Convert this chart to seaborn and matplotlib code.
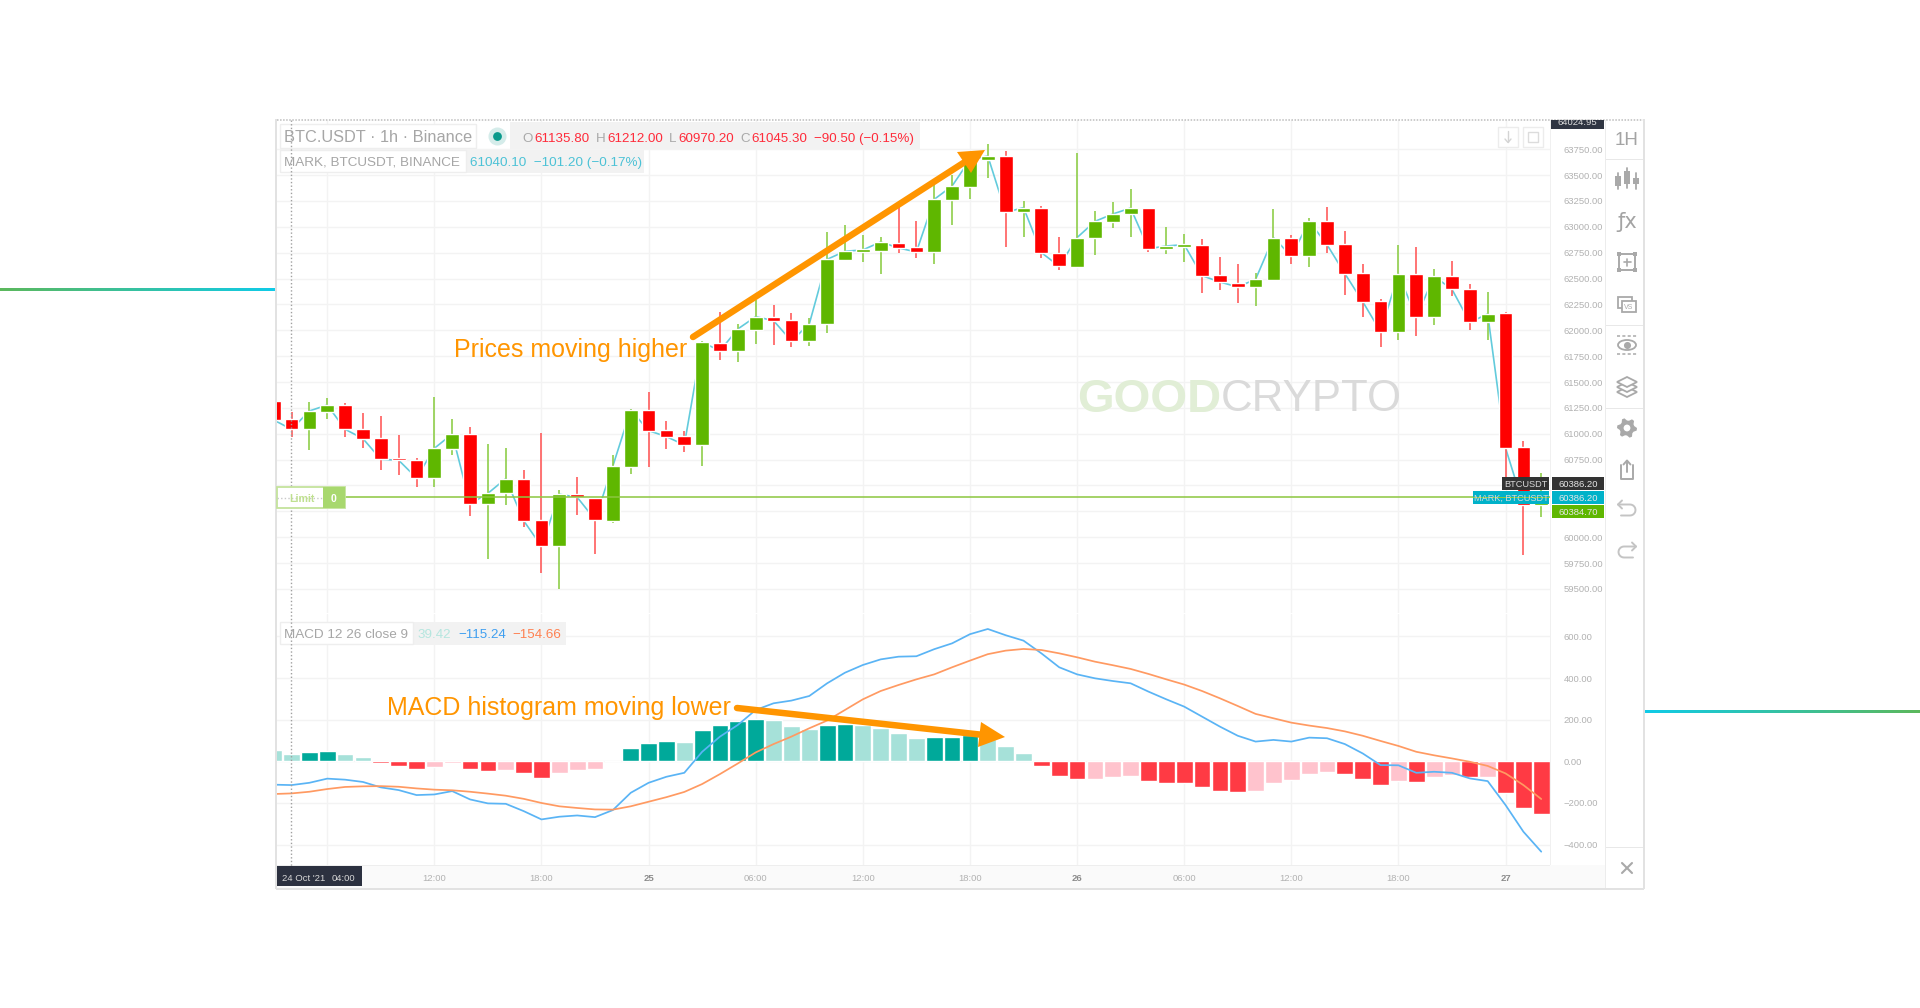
import numpy as np
import pandas as pd
import matplotlib
matplotlib.use("Agg")
import matplotlib.pyplot as plt
import seaborn as sns
from matplotlib.colors import LinearSegmentedColormap
from matplotlib.patches import Rectangle, Polygon, Ellipse, Circle

# hourly candles, first one is 24 Oct 03:00 (hour 3)
hours = list(range(3, 75))
opens = [61320, 61140, 61043, 61214, 61278, 61050, 60959, 60760, 60747, 60573, 60853, 60998,
         60321, 60424, 60566, 60167, 59912, 60415, 60379, 60160, 60682, 61230, 61040, 60979,
         60892, 61881, 61803, 62003, 62132, 62100, 61894, 62064, 62680, 62757, 62770, 62844,
         62805, 62757, 63260, 63389, 63650, 63685, 63140, 63186, 62751, 62609, 62889, 63050,
         63128, 63186, 62789, 62805, 62825, 62531, 62461, 62419, 62487, 62896, 62718, 63053,
         62834, 62551, 62283, 61987, 62544, 62126, 62522, 62399, 62077, 62164, 60868, 60308]
closes = [61133, 61043, 61220, 61278, 61043, 60953, 60753, 60744, 60573, 60859, 60998, 60321,
          60424, 60566, 60160, 59912, 60415, 60386, 60170, 60689, 61230, 61030, 60972, 60892,
          61884, 61803, 62013, 62132, 62093, 61897, 62061, 62686, 62764, 62777, 62854, 62796,
          62757, 63266, 63395, 63650, 63685, 63140, 63186, 62751, 62619, 62896, 63053, 63124,
          63182, 62789, 62815, 62828, 62528, 62467, 62419, 62493, 62896, 62718, 63053, 62828,
          62548, 62277, 61987, 62544, 62126, 62522, 62396, 62077, 62158, 60862, 60308, 60386]
highs = [61320, 61207, 61311, 61343, 61301, 61201, 61172, 60988, 60769, 61352, 61140, 61062,
         60901, 60859, 60650, 61005, 60457, 60579, 60379, 60798, 61236, 61401, 61120, 61030,
         61900, 62174, 62061, 62293, 62245, 62164, 62116, 62954, 63015, 62921, 62905, 63253,
         63057, 63405, 63500, 63650, 63801, 63737, 63250, 63205, 62905, 63711, 63157, 63237,
         63366, 63186, 63002, 62931, 62883, 62706, 62641, 62551, 63173, 62925, 63086, 63195,
         62963, 62641, 62303, 62825, 62802, 62590, 62673, 62445, 62374, 62180, 60926, 60617]
lows = [61133, 60966, 60843, 61143, 60972, 60859, 60650, 60602, 60489, 60489, 60792, 60209,
        59790, 60312, 60102, 59658, 59497, 60218, 59838, 60141, 60611, 60682, 60850, 60821,
        60689, 61713, 61691, 61865, 61858, 61842, 61852, 61971, 62680, 62664, 62544, 62744,
        62696, 62638, 63018, 63270, 63469, 62809, 62905, 62696, 62583, 62599, 62728, 62986,
        62899, 62757, 62738, 62664, 62358, 62390, 62267, 62235, 62474, 62644, 62615, 62744,
        62341, 62126, 61842, 61906, 61945, 62055, 62335, 62003, 61906, 60500, 59828, 60192]

hist_values = [53, 37, 43, 48, 34, 19, -6, -21, -35, -26, -6, -35, -46, -40, -56, -82, -56, -42,
               -37, 3, 64, 88, 99, 93, 149, 173, 194, 204, 199, 168, 154, 173, 178, 173, 159, 138,
               114, 117, 117, 127, 106, 74, 38, -21, -71, -87, -85, -77, -71, -93, -106, -106,
               -125, -141, -146, -141, -106, -91, -59, -50, -59, -85, -115, -96, -101, -75, -64,
               -75, -75, -151, -226, -255]
# T rising green, t fading green, R falling red, r fading red
hist_shades = list("ttTTttRRRrrRRrRRrrrTTTTtTTTTtttTTttttTTTtttRRRrrrRRRRRRrrrrrRRRrRrrRrRRR")
macd_values = [-112, -114, -103, -83, -88, -99, -125, -138, -162, -159, -143, -183, -202, -204,
               -239, -279, -266, -260, -268, -234, -151, -103, -74, -55, 46, 119, 175, 247, 279,
               292, 314, 375, 426, 463, 490, 503, 505, 539, 567, 611, 636, 606, 580, 519, 452,
               418, 399, 386, 375, 335, 298, 263, 215, 167, 123, 95, 103, 95, 114, 111, 83, 38,
               -18, -19, -55, -50, -55, -82, -95, -210, -338, -434]
signal_values = [-157, -154, -146, -133, -123, -120, -119, -122, -130, -136, -139, -146, -155,
                 -165, -180, -200, -216, -224, -231, -232, -216, -194, -172, -147, -109, -61, -10,
                 43, 83, 119, 159, 196, 247, 298, 338, 367, 394, 418, 452, 484, 515, 532, 540,
                 535, 519, 500, 479, 462, 444, 420, 394, 369, 338, 303, 266, 228, 207, 186, 172,
                 160, 144, 123, 98, 74, 46, 29, 14, -2, -22, -58, -114, -181]

price_ticks = list(range(59500, 64000, 250))
hidden_price_ticks = [60250, 60500]  # sit under the price tags
macd_ticks = [-400, -200, 0, 200, 400, 600]
time_ticks = [6, 12, 18, 24, 30, 36, 42, 48, 54, 60, 66, 72]
time_labels = ["", "12:00", "18:00", "25", "06:00", "12:00", "18:00", "26", "06:00", "12:00", "18:00", "27"]
limit_price = 60386

GREEN = "#5fb700"
RED = "#ff0000"
GRID = "#f3f3f3"
CHROME = "#a9a9a9"
ORANGE = "#ff9500"

sns.set_theme(style="white")
plt.rcParams['font.family'] = ['Liberation Sans', 'DejaVu Sans']

W, H = 1920, 1008
fig = plt.figure(figsize=(W / 100, H / 100), dpi=100, facecolor="white")


def px_axes(left, top, right, bottom, **kw):
    return fig.add_axes([left / W, 1 - bottom / H, (right - left) / W, (bottom - top) / H], **kw)


xlim = (3.13, 74.49)
ax = px_axes(276, 120, 1550, 613)
ax2 = px_axes(276, 614, 1550, 865)
ov = fig.add_axes([0, 0, 1, 1], zorder=10)
ov.patch.set_alpha(0)

# candles
df = pd.DataFrame({"hour": hours, "open": opens, "close": closes, "high": highs, "low": lows})
df["up"] = df["close"] >= df["open"]
sns.lineplot(x=hours, y=closes, ax=ax, color="#62cbdc", lw=1.2, zorder=1.5)
for up, part in df.groupby("up"):
    body = GREEN if up else RED
    wick = "#8fce4a" if up else "#ff5c5c"
    ax.vlines(part["hour"], part["low"], part["high"], color=wick, lw=1.2, zorder=2)
    ax.bar(part["hour"], (part["close"] - part["open"]).abs().clip(lower=25),
           bottom=part[["open", "close"]].min(axis=1), width=0.77, color=body, zorder=3)
ax.axhline(limit_price, color="#8cc63f", lw=1.1, zorder=5)

ax.set_ylim(59267, 64033)
ax.set_yticks(price_ticks)
ax.set_yticklabels(["" if v in hidden_price_ticks else f"{v:.2f}" for v in price_ticks])

# macd histogram and lines
hist_df = pd.DataFrame({"hour": hours, "value": hist_values, "shade": hist_shades})
sns.barplot(data=hist_df, x="hour", y="value", hue="shade", native_scale=True, dodge=False,
            hue_order=["T", "t", "R", "r"], width=0.94, errorbar=None, legend=False, ax=ax2,
            palette={"T": "#00a99a", "t": "#a6e1d9", "R": "#ff3a44", "r": "#ffc3cd"}, zorder=2,
            saturation=1)
sns.lineplot(x=hours, y=macd_values, ax=ax2, color="#5ab4f5", lw=1.25, zorder=4)
sns.lineplot(x=hours, y=signal_values, ax=ax2, color="#ff9a62", lw=1.25, zorder=4)
ax2.set_ylim(-498, 708)
ax2.set_yticks(macd_ticks)
ax2.set_yticklabels([f"{v:.2f}".replace("-", "\u2212") for v in macd_ticks])
ax2.set_xlabel("")
ax2.set_ylabel("")

for a in (ax, ax2):
    a.set_xlim(*xlim)
    a.set_axisbelow(True)
    a.grid(True, color=GRID, lw=1)
    a.set_xticks(time_ticks)
    for s in a.spines.values():
        s.set_visible(False)
    a.yaxis.tick_right()
    a.tick_params(axis="y", length=0, pad=10, labelsize=6.8, labelcolor="#b2b2b2")
ax.tick_params(axis="x", length=0, labelbottom=False)
ax2.set_xticklabels(time_labels)
ax2.tick_params(axis="x", length=0, pad=6.5, labelsize=6.8, labelcolor="#b2b2b2")
for label in ax2.get_xticklabels():
    if label.get_text() in ("25", "26", "27"):
        label.set_color("#8c8c8c")
        label.set_fontweight("bold")

# time axis band goes behind the axes so the tick labels stay on top
fig.add_artist(Rectangle((277 / W, 1 - 888 / H), (1605 - 277) / W, 23 / H, fc="#fafafa", ec="none",
                         transform=fig.transFigure, zorder=-1))

# overlay in pixel coordinates for the screenshot chrome
ov.set_xlim(0, W)
ov.set_ylim(H, 0)
ov.axis("off")


def box(x0, y0, x1, y1, fc="white", ec="none", lw=1, z=1, alpha=1):
    p = Rectangle((x0, y0), x1 - x0, y1 - y0, fc=fc, ec=ec, lw=lw, zorder=z, alpha=alpha)
    ov.add_patch(p)
    return p


def txt(x, y, s, size, color=CHROME, ha="left", z=6, **kw):
    # va=center leaves room for descenders, push down so the caps sit on y
    return ov.text(x, y + 0.146 * size, s, fontsize=size, color=color, ha=ha, va="center", zorder=z, **kw)


def seg(xs, ys, color=CHROME, lw=1.6, z=6, **kw):
    ov.plot(xs, ys, color=color, lw=lw, zorder=z, solid_capstyle="round", **kw)


# gradient rules either side of the screenshot
grad = LinearSegmentedColormap.from_list("rule", ["#5cb85c", "#10cbe8"])
ramp = np.linspace(0, 1, 256)[None, :]
ov.imshow(ramp, cmap=grad, extent=(0, 275, 291, 288), aspect="auto", zorder=1)
ov.imshow(ramp[:, ::-1], cmap=grad, extent=(1645, 1920, 713, 710), aspect="auto", zorder=1)
ov.set_xlim(0, W)
ov.set_ylim(H, 0)

# frame
box(275, 119, 277, 889, fc="#e2e2e2", z=3)
box(1643, 119, 1645, 889, fc="#e2e2e2", z=3)
box(276, 888, 1644, 889.5, fc="#e2e2e2", z=3)
seg([277, 1643], [120, 120], color="#bdbdbd", lw=1.1, linestyle=(0, (1, 1)), z=3)
box(1550, 120, 1551, 865, fc="#f0f0f0", z=1)
box(1605, 120, 1606, 888, fc="#ececec", z=1)
box(277, 864.5, 1550, 865.5, fc="#eeeeee", z=1)
for y in (159, 325, 408, 847):
    box(1606, y, 1643, y + 1, fc="#e8e8e8", z=1)
seg([291.3, 291.3], [120, 866], color="#a0a0a0", lw=1.0, linestyle=(0, (1, 1.6)), z=5)

# legends
box(510, 122, 920, 149, fc="#f2f2f2", z=1)
box(280, 124, 476, 148, fc="white", ec="#eeeeee", z=2)
txt(284.5, 135.5, "BTC.USDT · 1h · Binance", 11.8, color="#a6a6a6")
ov.scatter([497], [136], s=169, color="#d5ecea", zorder=6, lw=0)
ov.scatter([497], [136], s=40, color="#0a9a8c", zorder=7, lw=0)
red_txt = "#ff2b3a"
for x, s, c in [(522, "O", CHROME), (534, "61135.80", red_txt), (596, "H", CHROME),
                (607, "61212.00", red_txt), (669, "L", CHROME), (678, "60970.20", red_txt),
                (740, "C", CHROME), (751, "61045.30", red_txt), (814, "\u221290.50 (\u22120.15%)", red_txt)]:
    txt(x, 137.5, s, 9.6, color=c)
box(466, 150, 644, 173, fc="#f2f2f2", z=1)
box(280, 150, 466, 172, fc="white", ec="#eeeeee", z=2)
txt(284.5, 161.5, "MARK, BTCUSDT, BINANCE", 9.7, color="#a6a6a6")
txt(469.5, 161.5, "61040.10  \u2212101.20 (\u22120.17%)", 9.7, color="#4cc2d6")

box(413, 622, 566, 645, fc="#f2f2f2", z=1)
box(280, 622, 413, 644, fc="white", ec="#eeeeee", z=2)
txt(284.5, 633.5, "MACD 12 26 close 9", 9.7, color="#a6a6a6")
txt(418, 634, "39.42", 9.6, color="#b5e6df")
txt(458, 634, "\u2212115.24", 9.6, color="#3f9ff0")
txt(512, 634, "\u2212154.66", 9.6, color="#ff8050")

# top right buttons
for x0 in (1498, 1523):
    ov.add_patch(Rectangle((x0, 127), 20, 20, fc="white", ec="#ececec", lw=1, zorder=4))
seg([1508, 1508], [131, 142], color="#d4d4d4", lw=1)
seg([1505, 1508, 1511], [139, 142.5, 139], color="#d4d4d4", lw=1)
ov.add_patch(Rectangle((1528, 132), 10, 10, fc="none", ec="#dcdcdc", lw=1, zorder=5))

# annotations
txt(454, 347.5, "Prices moving higher", 18.0, color=ORANGE)
txt(387, 705.5, "MACD histogram moving lower", 18.0, color=ORANGE)


def arrow(x0, y0, x1, y1, b1, b2, width=6.5):
    mid = (np.array(b1) + np.array(b2)) / 2
    seg([x0, mid[0]], [y0, mid[1]], color=ORANGE, lw=width * 0.72, z=8)
    ov.add_patch(Polygon([(x1, y1), b1, b2], fc=ORANGE, ec="none", zorder=8))


arrow(693, 337, 985, 150, (957, 152), (971, 173))
arrow(737, 708, 1005, 737, (981, 722), (978, 747))

# watermark
txt(1077, 395, "GOOD", 34, color="#e1eed6", z=1.5, fontweight="bold")
txt(1221, 395, "CRYPTO", 31.6, color="#dadada", z=1.5)

# limit order label
box(277, 487, 345, 508, fc="white", ec="#c4e39c", lw=1.3, z=5)
box(323, 487, 345, 508, fc="#a8d86e", z=5.5)
txt(289, 497.5, "Limit", 7.6, color="#bfe08f", z=6, fontweight="bold")
txt(331, 497.5, "0", 7.6, color="white", z=6, fontweight="bold")
seg([277, 322], [497.5, 497.5], color="#c8c8c8", lw=1, linestyle=(0, (1, 1.6)), z=5.8)

# axis tags
top_tag = box(1551, 120, 1604, 129, fc="#2f3542", z=4)
t = txt(1577.5, 122, "64024.95", 6.8, color="#dddddd", ha="center")
t.set_clip_path(top_tag)
tag_rows = [(477, 490, "#333333", "60386.20", "BTCUSDT", 1502),
            (491, 504, "#00b2c9", "60386.20", "MARK, BTCUSDT", 1473),
            (505, 518, "#5fb700", "60384.70", None, None)]
for y0, y1, col, val, name, x0 in tag_rows:
    box(1552, y0, 1604, y1, fc=col, z=4)
    txt(1578, (y0 + y1) / 2, val, 6.8, color="#e6e6e6", ha="center")
    if name:
        box(x0, y0, 1549, y1, fc=col, z=4)
        txt((x0 + 1549) / 2, (y0 + y1) / 2, name, 6.6, color="#d9d9d9", ha="center")
box(1473, 496.8, 1549, 498, fc="#8cc63f", z=5)

# time tag
box(277, 866, 362, 886, fc="#2c3140", z=4)
txt(282, 878, "24 Oct '21", 6.8, color="#d8d8d8")
txt(332, 878, "04:00", 6.8, color="#d8d8d8")

# toolbar icons
cx = 1627
txt(cx, 139, "1H", 13.5, ha="center", color="#a4a4a4")
for dx, y0, y1, wy0, wy1 in [(-9, 176, 186, 173, 189), (0, 171, 184, 168, 188), (9, 178, 184, 173, 189)]:
    seg([cx + dx, cx + dx], [wy0, wy1], lw=1.3)
    ov.add_patch(Rectangle((cx + dx - 3, y0), 6, y1 - y0, fc=CHROME, ec="none", zorder=6))
txt(cx, 220, "\u0192x", 15, ha="center", color="#a4a4a4", family="DejaVu Sans")
ov.add_patch(Rectangle((cx - 8, 254), 16, 16, fc="none", ec=CHROME, lw=1.4, zorder=6))
seg([cx - 3.5, cx + 3.5], [262, 262], lw=1.2)
seg([cx, cx], [258.5, 265.5], lw=1.2)
ov.scatter([cx - 8, cx + 8, cx - 8, cx + 8], [254, 254, 270, 270], s=12, marker="s", color=CHROME, zorder=6, lw=0)
ov.add_patch(Rectangle((cx - 9, 297), 14, 11, fc="white", ec=CHROME, lw=1.3, zorder=6))
ov.add_patch(Rectangle((cx - 5, 301), 14, 11, fc="white", ec=CHROME, lw=1.3, zorder=6.1))
txt(cx + 2, 306.5, "VS", 5, ha="center", z=6.2)
seg([cx - 10, cx + 10], [336, 336], lw=1.1, linestyle=(0, (2, 1.5)))
seg([cx - 10, cx + 10], [354, 354], lw=1.1, linestyle=(0, (2, 1.5)))
ov.add_patch(Ellipse((cx, 345), 18, 10, fc="none", ec=CHROME, lw=1.3, zorder=6))
ov.scatter([cx], [345], s=26, color=CHROME, zorder=6, lw=0)
for y in (392, 387, 382):
    ov.add_patch(Polygon([(cx - 10, y), (cx, y - 5), (cx + 10, y), (cx, y + 5)], fc="white", ec=CHROME, lw=1.3, zorder=6))

# gear
angles = np.linspace(0, 2 * np.pi, 24, endpoint=False) + np.pi / 12
radii = [10, 10, 7.5, 7.5] * 6
ov.add_patch(Polygon([(cx + r * np.sin(a), 428 + r * np.cos(a)) for r, a in zip(radii, angles)],
                     fc=CHROME, ec="none", zorder=6))
ov.add_patch(Circle((cx, 428), 3.4, fc="white", ec="none", zorder=6.1))

# share
seg([cx - 6, cx - 6, cx + 6, cx + 6], [465, 479, 479, 465], lw=1.4)
seg([cx, cx], [461, 472], lw=1.4)
seg([cx - 3.5, cx, cx + 3.5], [464.5, 460.5, 464.5], lw=1.4)


# undo and redo, flip=1 has the arrow head on the left
def turn_arrow(y, flip):
    theta = np.linspace(-np.pi / 2, np.pi / 2, 12)
    xs = [cx - flip * 9] + list(cx + flip * (3 + 5.5 * np.cos(theta))) + [cx - flip * 6]
    ys = [y - 5.5] + list(y + 5.5 * np.sin(theta)) + [y + 5.5]
    seg(xs, ys, lw=1.4, color="#c4c4c4")
    seg([cx - flip * 5, cx - flip * 9, cx - flip * 5], [y - 9.5, y - 5.5, y - 1.5], lw=1.4, color="#c4c4c4")


turn_arrow(510, 1)
turn_arrow(552, -1)

seg([cx - 5, cx + 5], [863, 873], lw=1.5)
seg([cx - 5, cx + 5], [873, 863], lw=1.5)

fig.savefig("out.png", dpi=100)
